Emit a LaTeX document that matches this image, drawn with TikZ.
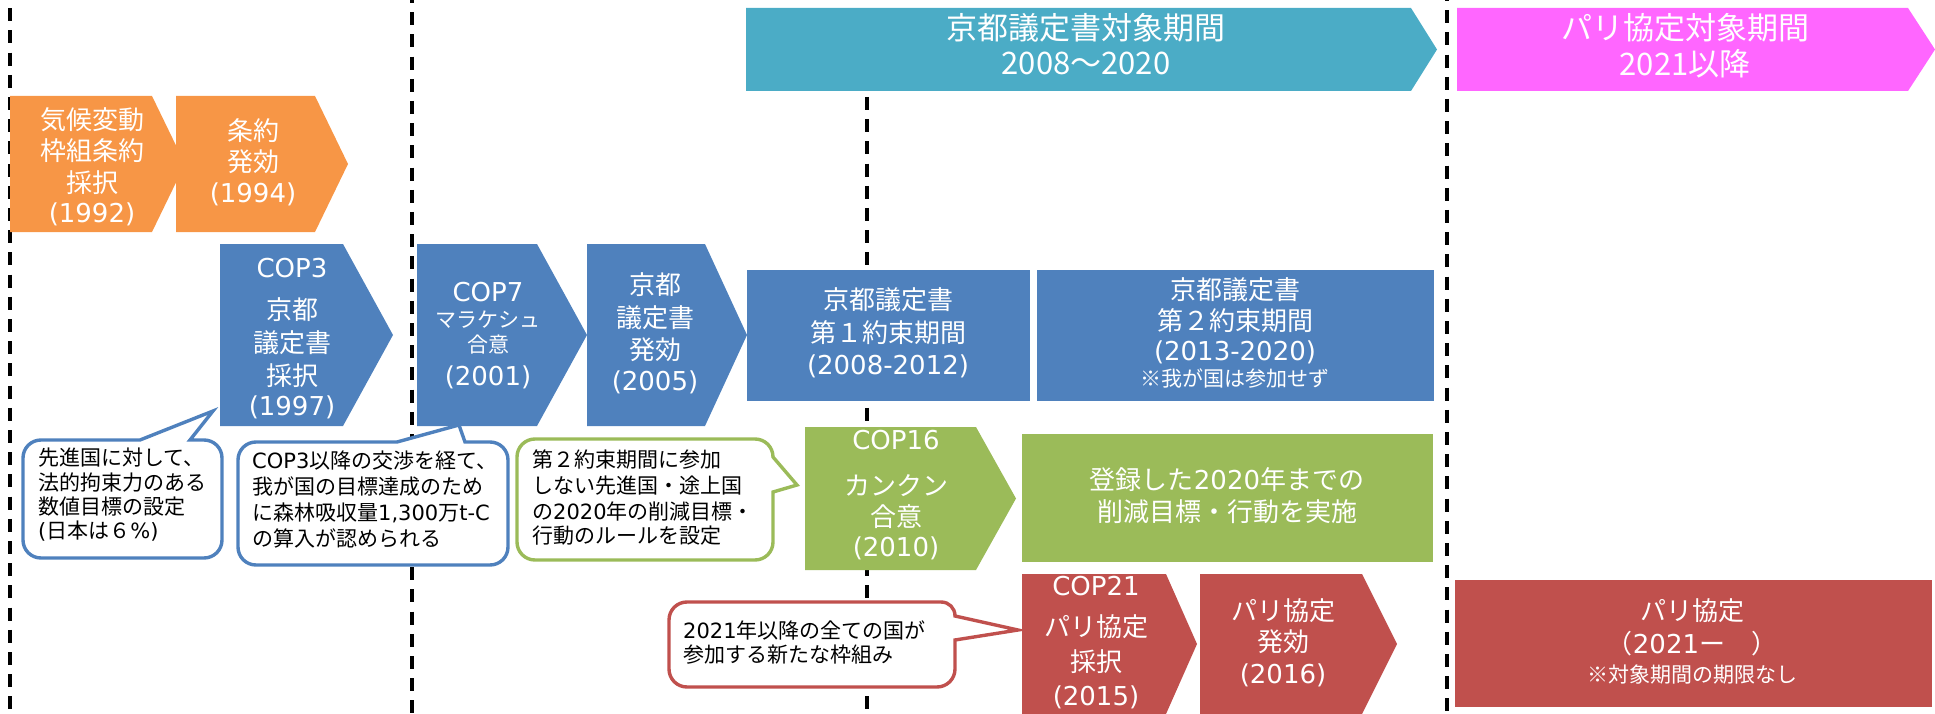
\documentclass[tikz,border=0pt]{standalone}
\usepackage{fontspec}
\setmainfont{DejaVu Sans}
\newfontfamily\jp{Noto Sans CJK JP}
\definecolor{orangeF}{HTML}{F79646}
\definecolor{blueF}{HTML}{4F81BD}
\definecolor{cyanF}{HTML}{4BACC6}
\definecolor{magF}{HTML}{FF66FF}
\definecolor{greenF}{HTML}{9BBB59}
\definecolor{redF}{HTML}{C0504D}
\newcommand\fb{\fontsize{26}{31}\selectfont}
\newcommand\fsm{\fontsize{21}{25}\selectfont}
\newcommand\ftp{\fontsize{31}{37}\selectfont}
\tikzset{
  wt/.style={text=white, inner sep=0pt, anchor=center, font=\fb},
  wts/.style={text=white, inner sep=0pt, anchor=center, font=\fsm},
  wtt/.style={text=white, inner sep=0pt, anchor=center, font=\ftp\jp},
  bt/.style={text=black, inner sep=0pt, anchor=west, font=\fsm},
  dl/.style={line width=4pt, dash pattern=on 13pt off 9.2pt, black},
  cb/.style={line width=3.4pt, fill=white, line join=miter}
}
\begin{document}
\begin{tikzpicture}[x=1pt,y=-1pt]
\useasboundingbox (0,0) rectangle (1935,714);
\clip (0,0) rectangle (1935,714);
% dashed period separators
\coordinate (d1t) at (9.5,-14); \coordinate (d1b) at (9.5,720);
\coordinate (d2t) at (412,-10); \coordinate (d2b) at (412,720);
\coordinate (d3t) at (867,-14); \coordinate (d3b) at (867,720);
\coordinate (d4t) at (1447,-12); \coordinate (d4b) at (1447,720);
\draw[dl] (d1t) -- (d1b);
\draw[dl] (d2t) -- (d2b);
\draw[dl] (d3t) -- (d3b);
\draw[dl] (d4t) -- (d4b);
% top period bars
\fill[cyanF] (746,8) -- (1411,8) -- (1437,49.5) -- (1411,91) -- (746,91) -- cycle;
\fill[magF] (1457,8) -- (1908,8) -- (1935,49.5) -- (1908,91) -- (1457,91) -- cycle;
% orange
\fill[orangeF] (10,96) -- (152,96) -- (185,164) -- (152,232) -- (10,232) -- cycle;
\fill[orangeF] (176,96) -- (315,96) -- (348,164) -- (315,232) -- (176,232) -- cycle;
% blue
\fill[blueF] (220,244) -- (343,244) -- (393,335) -- (343,426) -- (220,426) -- cycle;
\fill[blueF] (417,244) -- (537,244) -- (587,335) -- (537,426) -- (417,426) -- cycle;
\fill[blueF] (587,244) -- (705,244) -- (747,335) -- (705,426) -- (587,426) -- cycle;
\fill[blueF] (747,270) rectangle (1030,401);
\fill[blueF] (1037,270) rectangle (1434,401);
% green
\fill[greenF] (805,427) -- (976,427) -- (1016,498.5) -- (976,570) -- (805,570) -- cycle;
\fill[greenF] (1022,434) rectangle (1433,562);
% red
\fill[redF] (1022,574) -- (1166,574) -- (1197,644) -- (1166,714) -- (1022,714) -- cycle;
\fill[redF] (1200,574) -- (1362,574) -- (1397,644) -- (1362,714) -- (1200,714) -- cycle;
\fill[redF] (1455,580) rectangle (1932,707);
% callouts
\draw[cb, draw=blueF] (23,458) .. controls (23,448) and (31,440) .. (41,440) -- (140,440) -- (213,411) -- (190,440) -- (204,440) .. controls (214,440) and (222,448) .. (222,458) -- (222,540) .. controls (222,550) and (214,558) .. (204,558) -- (41,558) .. controls (31,558) and (23,550) .. (23,540) -- cycle;
\draw[cb, draw=blueF] (238,460) .. controls (238,450) and (246,442) .. (256,442) -- (397,442) -- (459,425) -- (465,442) -- (490,442) .. controls (500,442) and (508,450) .. (508,460) -- (508,547) .. controls (508,557) and (500,565) .. (490,565) -- (256,565) .. controls (246,565) and (238,557) .. (238,547) -- cycle;
\draw[cb, draw=greenF] (517,457) .. controls (517,447) and (525,439) .. (535,439) -- (755,439) .. controls (765,439) and (773,447) .. (773,457) -- (797,485) -- (773,492) -- (773,542) .. controls (773,552) and (765,560) .. (755,560) -- (535,560) .. controls (525,560) and (517,552) .. (517,542) -- cycle;
\draw[cb, draw=redF] (669,620) .. controls (669,610) and (677,602) .. (687,602) -- (941,602) .. controls (949,602) and (955,608) .. (955,616) -- (1018,630) -- (955,640) -- (955,669) .. controls (955,679) and (947,687) .. (937,687) -- (687,687) .. controls (677,687) and (669,679) .. (669,669) -- cycle;
% top bar texts
\node[wtt] (ky1) at (1086,28) {京都議定書対象期間};
\node[wtt] (ky2) at (1086,63) {2008～2020};
\node[wtt] (pa1) at (1685,28) {パリ協定対象期間};
\node[wtt] (pa2) at (1685,64) {2021以降};
% orange texts
\node[wt] (o1a) at (92,120) {\jp 気候変動};
\node[wt] (o1b) at (92,151) {\jp 枠組条約};
\node[wt] (o1c) at (92,183) {\jp 採択};
\node[wt] (o1d) at (92,214) {(1992)};
\node[wt] (o2a) at (253,131) {\jp 条約};
\node[wt] (o2b) at (253,162) {\jp 発効};
\node[wt] (o2c) at (253,194) {(1994)};
% COP3
\node[wt] (b1a) at (292,268) {COP3};
\node[wt] (b1b) at (292,310) {\jp 京都};
\node[wt] (b1c) at (292,343) {\jp 議定書};
\node[wt] (b1d) at (292,376) {\jp 採択};
\node[wt] (b1e) at (292,407) {(1997)};
% COP7
\node[wt] (b2a) at (488,292) {COP7};
\node[wts] (b2b) at (488,320) {\jp マラケシュ};
\node[wts] (b2c) at (488,345) {\jp 合意};
\node[wt] (b2d) at (488,377) {(2001)};
% Kyoto entry into force
\node[wt] (b3a) at (655,285) {\jp 京都};
\node[wt] (b3b) at (655,318) {\jp 議定書};
\node[wt] (b3c) at (655,350) {\jp 発効};
\node[wt] (b3d) at (655,382) {(2005)};
% first commitment period
\node[wt] (b4a) at (888,300) {\jp 京都議定書};
\node[wt] (b4b) at (888,333) {\jp 第１約束期間};
\node[wt] (b4c) at (888,366) {(2008-2012)};
% second commitment period
\node[wt] (b5a) at (1235,290) {\jp 京都議定書};
\node[wt] (b5b) at (1235,321) {\jp 第２約束期間};
\node[wt] (b5c) at (1235,352) {(2013-2020)};
\node[wts] (b5d) at (1235,379) {\jp ※我が国は参加せず};
% COP16
\node[wt] (g1a) at (896,440) {COP16};
\node[wt] (g1b) at (896,486) {\jp カンクン};
\node[wt] (g1c) at (896,517) {\jp 合意};
\node[wt] (g1d) at (896,548) {(2010)};
\node[wt] (g2a) at (1227,480) {{\jp 登録した}2020{\jp 年までの}};
\node[wt] (g2b) at (1227,512) {\jp 削減目標・行動を実施};
% COP21
\node[wt] (r1a) at (1096,586) {COP21};
\node[wt] (r1b) at (1096,627) {\jp パリ協定};
\node[wt] (r1c) at (1096,662) {\jp 採択};
\node[wt] (r1d) at (1096,697) {(2015)};
\node[wt] (r2a) at (1283,611) {\jp パリ協定};
\node[wt] (r2b) at (1283,642) {\jp 発効};
\node[wt] (r2c) at (1283,675) {(2016)};
\node[wt] (r3a) at (1692,611) {\jp パリ協定};
\node[wt] (r3b) at (1692,644) {{\jp （}2021{\jp ー　）}};
\node[wts] (r3c) at (1692,675) {\jp ※対象期間の期限なし};
% callout texts
\node[bt] (c1a) at (38,458) {\jp 先進国に対して、};
\node[bt] (c1b) at (38,483) {\jp 法的拘束力のある};
\node[bt] (c1c) at (38,507) {\jp 数値目標の設定};
\node[bt] (c1d) at (38,531) {({\jp 日本は６}\%)};
\node[bt] (c2a) at (252,461) {COP3{\jp 以降の交渉を経て、}};
\node[bt] (c2b) at (252,487) {\jp 我が国の目標達成のため};
\node[bt] (c2c) at (252,513) {{\jp に森林吸収量}1,300{\jp 万}t-C};
\node[bt] (c2d) at (252,538) {\jp の算入が認められる};
\node[bt] (c3a) at (532,460) {\jp 第２約束期間に参加};
\node[bt] (c3b) at (532,486) {\jp しない先進国・途上国};
\node[bt] (c3c) at (532,511) {{\jp の}2020{\jp 年の削減目標・}};
\node[bt] (c3d) at (532,536) {\jp 行動のルールを設定};
\node[bt] (c4a) at (683,630) {2021{\jp 年以降の全ての国が}};
\node[bt] (c4b) at (683,655) {\jp 参加する新たな枠組み};
\end{tikzpicture}
\end{document}
